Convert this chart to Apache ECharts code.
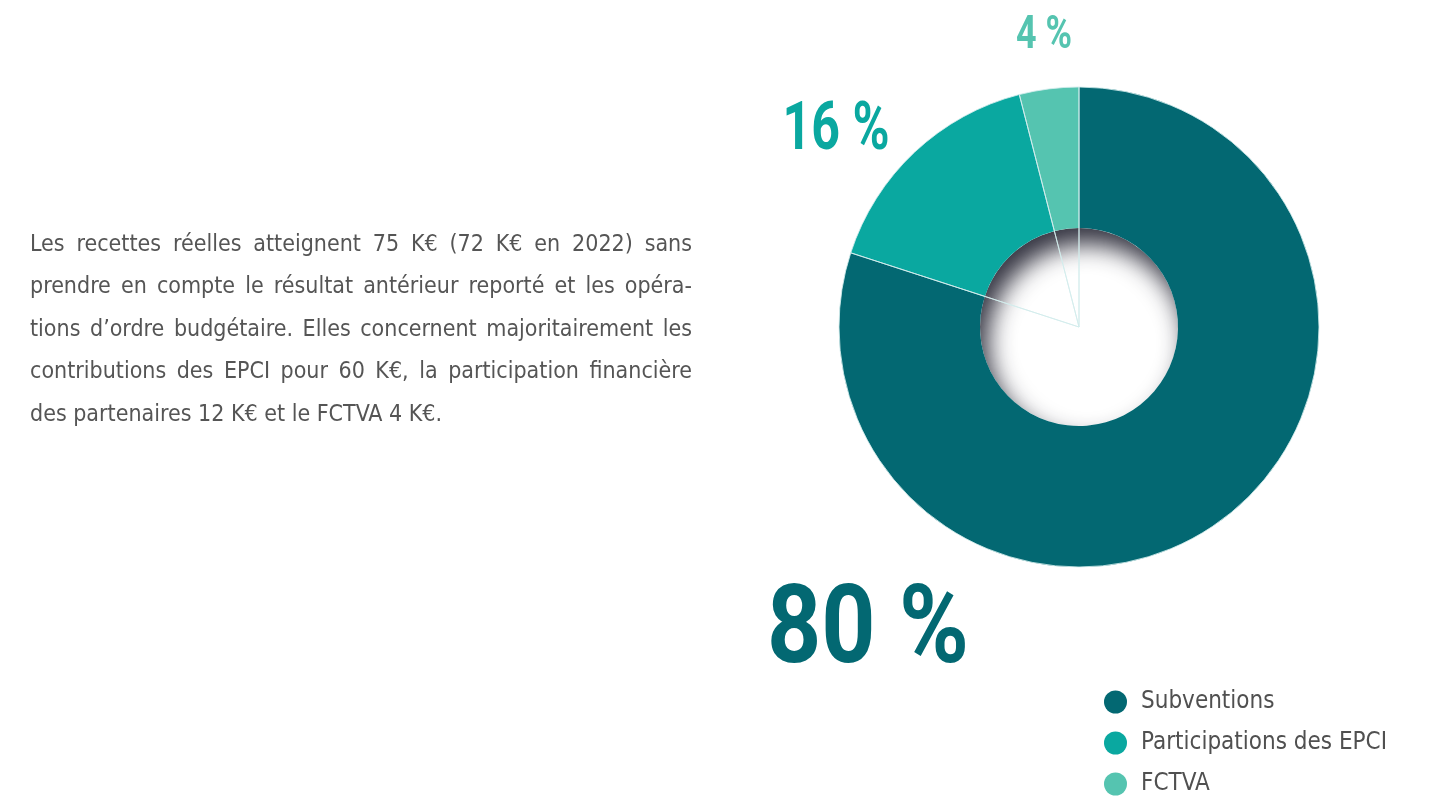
<!DOCTYPE html>
<html>
<head>
<meta charset="utf-8">
<script src="https://cdn.jsdelivr.net/npm/echarts@6/dist/echarts.min.js"></script>
<style>
  html, body { margin: 0; padding: 0; background: #ffffff; }
  #chart { position: absolute; left: 0; top: 0; width: 1430px; height: 796px; }
  #note {
    position: absolute; left: 30px; top: 222px; width: 662px;
    font-family: "DejaVu Sans Condensed", "Liberation Sans Narrow", sans-serif;
    font-size: 23px; line-height: 42.4px; color: #555555;
  }
  #note span { display: block; text-align: justify; text-align-last: justify; white-space: nowrap; }
  #note span.last { text-align-last: left; }
</style>
</head>
<body>
<div id="chart"></div>
<div id="note"></div>
<script>
const categories = ["Subventions", "Participations des EPCI", "FCTVA"];
const shares = [80, 16, 4];
const colors = ["#036872", "#0aa8a0", "#55c4b0"];
const labelSizes = [110, 66, 46];
const labelStretch = [0.86, 0.76, 0.78];
const labelSpots = [[868, 634], [836, 132], [1044, 36]];
const noteLines = [
  "Les recettes réelles atteignent 75 K€ (72 K€ en 2022) sans",
  "prendre en compte le résultat antérieur reporté et les opéra-",
  "tions d’ordre budgétaire. Elles concernent majoritairement les",
  "contributions des EPCI pour 60 K€, la participation financière",
  "des partenaires 12 K€ et le FCTVA 4 K€."
];

const note = document.getElementById("note");
noteLines.forEach((line, i) => {
  const span = document.createElement("span");
  span.textContent = line;
  if (i === noteLines.length - 1) span.className = "last";
  note.appendChild(span);
});

const center = [1079, 327];
const innerR = 99;
const outerR = 240;
const legendFont = '"DejaVu Sans Condensed", "Liberation Sans Narrow", sans-serif';

// big percentage figures, squeezed to look condensed
const percentTexts = shares.map((v, i) => ({
  type: "text",
  x: labelSpots[i][0],
  y: labelSpots[i][1],
  scaleX: labelStretch[i],
  z: 10,
  style: {
    text: v + " %",
    font: "bold " + labelSizes[i] + "px Roboto",
    fill: colors[i],
    textAlign: "center",
    textVerticalAlign: "middle"
  }
}));

const option = {
  backgroundColor: "#ffffff",
  animation: false,
  graphic: { elements: percentTexts },
  legend: {
    data: categories,
    orient: "vertical",
    left: 1104,
    top: 690,
    height: 200,
    padding: 0,
    itemWidth: 23,
    itemHeight: 23,
    itemGap: 17,
    icon: "circle",
    textStyle: { fontFamily: legendFont, fontSize: 24, color: "#505050", padding: [0, 0, 0, 9] }
  },
  series: [
    {
      // inner shadow of the hole
      type: "pie",
      z: 1,
      silent: true,
      center,
      radius: [innerR, 150],
      label: { show: false },
      labelLine: { show: false },
      itemStyle: {
        color: "#ffffff",
        shadowBlur: 24,
        shadowColor: "rgba(25,25,40,0.88)",
        shadowOffsetX: 8,
        shadowOffsetY: 16
      },
      data: [{ name: "_shadow", value: 1 }]
    },
    {
      type: "pie",
      z: 2,
      center,
      radius: [innerR, outerR],
      startAngle: 90,
      clockwise: true,
      itemStyle: { borderWidth: 0 },
      label: { show: false },
      labelLine: { show: false },
      data: categories.map((name, i) => ({
        name,
        value: shares[i],
        itemStyle: { color: colors[i] }
      }))
    },
    {
      // thin separators reaching the center
      type: "pie",
      z: 3,
      silent: true,
      center,
      radius: [0, outerR],
      startAngle: 90,
      clockwise: true,
      label: { show: false },
      labelLine: { show: false },
      itemStyle: {
        color: "rgba(0,0,0,0)",
        borderColor: "rgba(210,236,236,0.85)",
        borderWidth: 1
      },
      data: categories.map((name, i) => ({ name: name + "_line", value: shares[i] }))
    }
  ]
};

const chart = echarts.init(document.getElementById("chart"), null, { renderer: "canvas" });
chart.setOption(option);
</script>
</body>
</html>
